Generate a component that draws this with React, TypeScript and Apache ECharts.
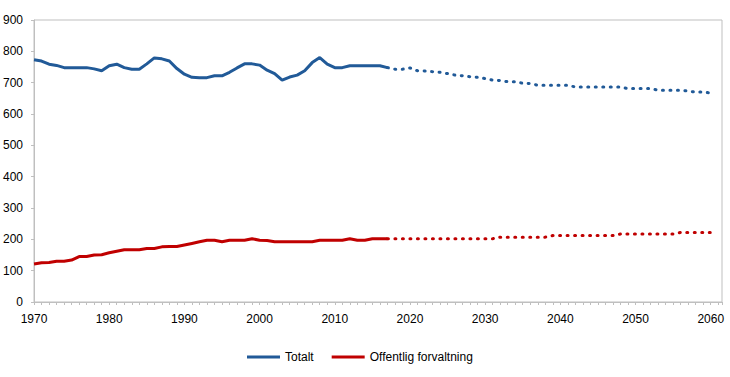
import React, { useEffect, useRef } from "react";
import * as echarts from "echarts";

const historyYears: number[] = [];
for (let y = 1970; y <= 2017; y++) historyYears.push(y);
const projectionYears: number[] = [];
for (let y = 2017; y <= 2060; y++) projectionYears.push(y);

const totalHistory = [
  773, 769, 759, 755, 748, 748, 748, 748, 744, 738,
  754, 759, 748, 743, 743, 760, 779, 776, 769, 745,
  727, 717, 716, 716, 722, 722, 733, 747, 760, 760,
  756, 740, 729, 708, 718, 724, 738, 764, 780, 759,
  748, 748, 754, 754, 754, 754, 754, 748,
];
const totalProjection = [
  748, 743, 743, 747, 738, 737, 735, 733, 729, 724,
  722, 719, 717, 713, 708, 707, 703, 703, 698, 697,
  692, 692, 692, 692, 692, 686, 686, 686, 686, 686,
  686, 686, 681, 681, 681, 681, 676, 676, 676, 676,
  673, 670, 670, 667,
];
const publicHistory = [
  121, 125, 126, 130, 130, 134, 145, 145, 150, 151,
  157, 162, 167, 167, 167, 171, 171, 176, 177, 177,
  182, 187, 192, 197, 197, 192, 197, 197, 197, 202,
  197, 196, 192, 192, 192, 192, 192, 192, 197, 197,
  197, 197, 202, 197, 197, 202, 202, 202,
];
const publicProjection = [
  202, 202, 202, 202, 202, 202, 202, 202, 202, 202,
  202, 202, 202, 202, 202, 207, 207, 207, 207, 207,
  207, 207, 212, 212, 212, 212, 212, 212, 212, 212,
  212, 217, 217, 217, 217, 217, 217, 217, 217, 222,
  222, 222, 222, 222,
];

const BLUE = "#215a98";
const RED = "#c00000";
const GRAY = "#bfbfbf";
const FONT = "Liberation Sans";

const pair = (years: number[], vals: number[]) => years.map((y, i) => [y, vals[i]]);

export default function App() {
  const ref = useRef<HTMLDivElement>(null);
  useEffect(() => {
    if (!ref.current) return;
    const chart = echarts.init(ref.current, undefined, { renderer: "svg" });
    const lineBase = { type: "line", showSymbol: false, symbol: "none", smooth: false, z: 3 };
    chart.setOption({
      animation: false,
      grid: {
        left: 32,
        right: 8,
        top: 20,
        bottom: 75,
        show: true,
        borderColor: GRAY,
        borderWidth: 1,
      },
      legend: {
        left: 242,
        top: 346,
        icon: "rect",
        itemWidth: 33,
        itemHeight: 3,
        itemGap: 18,
        data: ["Totalt", "Offentlig forvaltning"],
        textStyle: { fontFamily: FONT, fontSize: 12, color: "#000" },
      },
      xAxis: {
        type: "value",
        min: 1970,
        max: 2061.5,
        interval: 10,
        axisLine: { show: true, lineStyle: { color: GRAY, width: 1 } },
        axisTick: { show: true, length: 3, lineStyle: { color: GRAY } },
        minorTick: { show: true, splitNumber: 10, length: 3, lineStyle: { color: GRAY } },
        splitLine: { show: false },
        axisLabel: {
          margin: 11,
          fontFamily: FONT,
          fontSize: 12,
          color: "#000",
          showMaxLabel: false,
          formatter: (v: number) => (v % 10 === 0 ? String(v) : ""),
        },
      },
      yAxis: {
        type: "value",
        min: 0,
        max: 900,
        interval: 100,
        axisLine: { show: true, lineStyle: { color: GRAY, width: 1 } },
        axisTick: { show: true, length: 3, lineStyle: { color: GRAY } },
        splitLine: { show: false },
        axisLabel: { margin: 11, fontFamily: FONT, fontSize: 12, color: "#000" },
      },
      series: [
        {
          ...lineBase,
          name: "Totalt",
          data: pair(historyYears, totalHistory),
          itemStyle: { color: BLUE },
          lineStyle: { color: BLUE, width: 3 },
        },
        {
          ...lineBase,
          name: "Totalt projection",
          data: pair(projectionYears, totalProjection),
          itemStyle: { color: BLUE },
          lineStyle: { color: BLUE, width: 3, type: [1, 6.5], cap: "round" },
        },
        {
          ...lineBase,
          name: "Offentlig forvaltning",
          data: pair(historyYears, publicHistory),
          itemStyle: { color: RED },
          lineStyle: { color: RED, width: 3 },
        },
        {
          ...lineBase,
          name: "Offentlig projection",
          data: pair(projectionYears, publicProjection),
          itemStyle: { color: RED },
          lineStyle: { color: RED, width: 3, type: [1, 6.5], cap: "round" },
        },
      ],
    });
    return () => chart.dispose();
  }, []);
  return (
    <div
      ref={ref}
      style={{ position: "fixed", left: 0, top: 0, width: 730, height: 377, background: "#fff" }}
    />
  );
}
